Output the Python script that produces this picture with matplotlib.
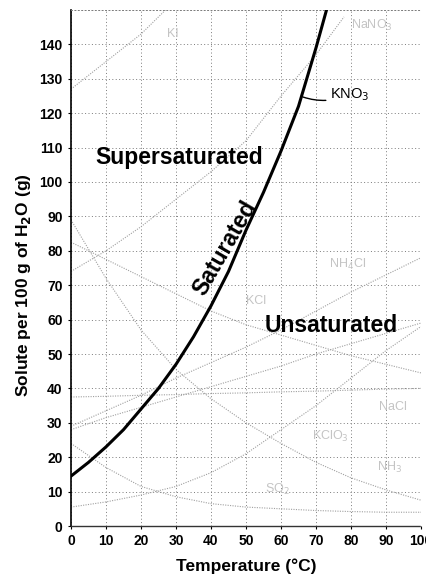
import matplotlib
matplotlib.use("Agg")
import matplotlib.pyplot as plt
from matplotlib import font_manager

# KNO3 (the highlighted curve)
kno3_t = [0, 5, 10, 15, 20, 25, 30, 35, 40, 45, 50, 55, 60, 65, 70, 73]
kno3_v = [14.5, 18.5, 23, 28, 34, 40, 47, 55, 64, 74, 86, 97, 109, 122, 139, 150]

# faded background curves
ki_t = [0, 10, 20, 27]
ki_v = [127, 135, 143, 150]
nano3_t = [0, 10, 20, 30, 40, 50, 60, 70, 78]
nano3_v = [74, 80, 87, 95, 103, 112, 125, 137, 148]
t_full = [0, 10, 20, 30, 40, 50, 60, 70, 80, 90, 100]
hcl_v = [82.5, 77.5, 72.5, 67.5, 62.5, 58.5, 55.5, 52.5, 49.5, 47, 44.5]
nh3_v = [89, 72, 57, 45.5, 37, 30, 24, 18.5, 14, 10.5, 7.5]
nh4cl_v = [29, 33.5, 38, 43, 47.5, 52, 57, 62.5, 68, 73, 78]
kcl_v = [28, 31.5, 34.5, 37.5, 40.5, 43.5, 46.5, 50, 53, 56, 59]
nacl_v = [37.5, 37.7, 38, 38.2, 38.5, 38.7, 39, 39.2, 39.5, 39.8, 40]
kclo3_v = [5.5, 7, 9, 11.5, 15.5, 21, 28, 35, 43, 51, 58]
so2_v = [24, 17, 11.5, 8.5, 6.5, 5.5, 5, 4.5, 4.2, 4, 4]

faded = [(ki_t, ki_v), (nano3_t, nano3_v), (t_full, hcl_v), (t_full, nh3_v),
         (t_full, nh4cl_v), (t_full, kcl_v), (t_full, nacl_v),
         (t_full, kclo3_v), (t_full, so2_v)]

gray_labels = ["KI", "NaNO$_3$", "NH$_4$Cl", "KCl", "NaCl", "KClO$_3$", "NH$_3$", "SO$_2$"]
gray_label_t = [29, 86, 79, 53, 92, 74, 91, 59]
gray_label_v = [143, 145.5, 76, 65.5, 34.7, 26, 17, 10.5]

xticks = list(range(0, 101, 10))
yticks = list(range(0, 141, 10))

names = {f.name for f in font_manager.fontManager.ttflist}
narrow = "Liberation Sans Narrow" if "Liberation Sans Narrow" in names else "Liberation Sans"
big_size = 19 if narrow == "Liberation Sans Narrow" else 16.5

plt.rcParams["font.family"] = ["Liberation Sans", "DejaVu Sans"]

fig = plt.figure(figsize=(4.27, 5.75), dpi=100)
ax = fig.add_axes([71/427, 49/575, 350/427, 516/575])

ax.set_xlim(0, 100)
ax.set_ylim(0, 150)

for t, v in faded:
    ax.plot(t, v, color="#a0a0a0", lw=0.8, ls=(0, (1, 1.2)), zorder=2)

for txt, t, v in zip(gray_labels, gray_label_t, gray_label_v):
    ax.text(t, v, txt, fontsize=9, color="#c4c4c4", ha="center", va="center", zorder=2)

ax.plot(kno3_t, kno3_v, color="black", lw=2.2, zorder=4)

ax.set_xticks(xticks)
ax.set_yticks(yticks)
ax.grid(True, color="#7a7a7a", lw=0.7, ls=(0, (1, 2.5)), zorder=1)
ax.tick_params(length=2, width=0.8, pad=4, labelsize=10)
for lab in ax.get_xticklabels() + ax.get_yticklabels():
    lab.set_fontweight("bold")

ax.spines["right"].set_visible(False)
ax.spines["top"].set_linestyle((0, (1, 2.5)))
ax.spines["top"].set_linewidth(0.7)
ax.spines["top"].set_color("#7a7a7a")
ax.spines["left"].set_linewidth(1.2)
ax.spines["bottom"].set_linestyle((0, (1, 1)))
ax.spines["bottom"].set_linewidth(1.0)
ax.spines["bottom"].set_color("#333333")

ax.set_xlabel("Temperature (°C)", fontsize=12.5, fontweight="bold")
ax.set_ylabel("Solute per 100 g of H$_\\mathbf{2}$O (g)", fontsize=12.5, fontweight="bold")
ax.xaxis.set_label_coords(0.5, -0.062)
ax.yaxis.set_label_coords(-0.109, 0.467)

ax.text(6.9, 107, "Supersaturated", fontsize=big_size, fontweight="bold",
        family=[narrow, "Liberation Sans"], ha="left", va="center", zorder=5)
ax.text(44, 80.8, "Saturated", fontsize=big_size, fontweight="bold",
        family=[narrow, "Liberation Sans"], rotation=60, ha="center", va="center",
        rotation_mode="anchor", zorder=5)
ax.text(74.2, 58.4, "Unsaturated", fontsize=big_size, fontweight="bold",
        family=[narrow, "Liberation Sans"], ha="center", va="center", zorder=5)

ax.annotate("KNO$_3$", xy=(66.3, 124.7), xytext=(74, 125.5), fontsize=10.5,
            ha="left", va="center",
            arrowprops=dict(arrowstyle="-", color="black", lw=1.0,
                            connectionstyle="arc3,rad=-0.2", shrinkA=1, shrinkB=0))

plt.savefig("out.png", dpi=100)
